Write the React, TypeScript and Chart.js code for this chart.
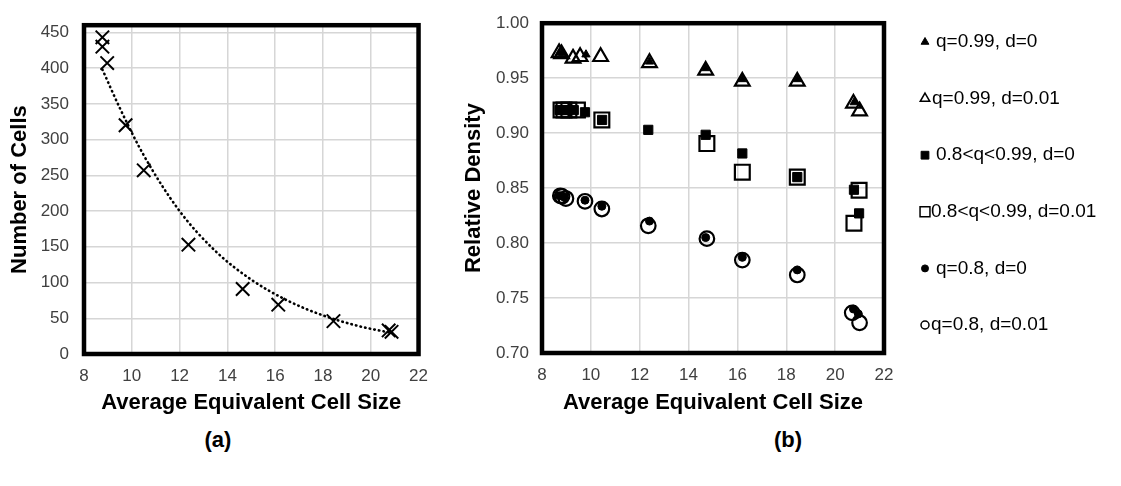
import React, { useEffect, useRef } from 'react';
import { Chart, registerables } from 'chart.js';
import { drawPoint } from 'chart.js/helpers';

Chart.register(...registerables);

// ---------- data: chart (a) ----------
const cellSizeA = [8.77, 8.77, 8.97, 9.74, 10.5, 12.37, 14.64, 16.13, 18.44, 20.75, 20.87];
const cellCount = [443, 430, 407, 320, 257, 153, 91, 69, 46, 33, 31];
const trendSize = [8.77, 9.5, 10.5, 12, 13.5, 15, 16.5, 18, 19.5, 20.87];
const trendCount = [398, 344, 278, 200, 144, 104, 75, 54, 39, 29.5];
const sizeTicks = [8, 10, 12, 14, 16, 18, 20, 22];
const countTicks = [0, 50, 100, 150, 200, 250, 300, 350, 400, 450];

// ---------- data: chart (b) ----------
const seriesNames = [
  'q=0.99, d=0',
  'q=0.99, d=0.01',
  '0.8<q<0.99, d=0',
  '0.8<q<0.99, d=0.01',
  'q=0.8, d=0',
  'q=0.8, d=0.01',
];
const q99d0X = [8.72, 8.85, 9.8, 12.4, 14.7, 16.2, 18.45, 20.78];
const q99d0Y = [0.973, 0.973, 0.9715, 0.965, 0.959, 0.949, 0.949, 0.928];
const q99d1X = [8.7, 8.8, 9.27, 9.56, 10.4, 12.4, 14.7, 16.2, 18.45, 20.75, 21.0];
const q99d1Y = [0.973, 0.972, 0.968, 0.9695, 0.9695, 0.964, 0.957, 0.947, 0.947, 0.927, 0.92];
const qMidD0X = [8.72, 8.85, 9.0, 9.3, 9.76, 10.46, 12.35, 14.7, 16.2, 18.45, 20.77, 20.98];
const qMidD0Y = [0.921, 0.921, 0.921, 0.921, 0.919, 0.912, 0.903, 0.8985, 0.8815, 0.86, 0.8485, 0.827];
const qMidD1X = [8.78, 8.9, 9.1, 9.45, 10.45, 14.75, 16.2, 18.45, 20.77, 20.98];
const qMidD1Y = [0.921, 0.921, 0.921, 0.921, 0.912, 0.8905, 0.8645, 0.86, 0.818, 0.848];
const q80d0X = [8.72, 8.8, 8.9, 9.76, 10.45, 12.4, 14.7, 16.2, 18.45, 20.75, 20.95];
const q80d0Y = [0.843, 0.843, 0.842, 0.839, 0.8335, 0.82, 0.805, 0.787, 0.7756, 0.74, 0.7355];
const q80d1X = [8.75, 8.82, 8.98, 9.76, 10.45, 12.35, 14.75, 16.2, 18.45, 20.7, 21.0];
const q80d1Y = [0.843, 0.8425, 0.8405, 0.838, 0.831, 0.8157, 0.804, 0.7845, 0.771, 0.7365, 0.7275];
const densityTicks = [0.7, 0.75, 0.8, 0.85, 0.9, 0.95, 1.0];

const FONT = "'Liberation Sans', Arial, sans-serif";
const GRID = '#d6d6d6';
const TICK_COLOR = '#404040';
const TICK_SIZE = 17;
const TITLE_SIZE = 22;

const pts = (xs: number[], ys: number[]) => xs.map((x, i) => ({ x, y: ys[i] }));

const framePlugin = {
  id: 'frame',
  beforeDatasetsDraw(chart: any) {
    const { ctx, chartArea } = chart;
    ctx.save();
    ctx.strokeStyle = '#000';
    ctx.lineWidth = 4.5;
    ctx.strokeRect(chartArea.left, chartArea.top, chartArea.right - chartArea.left, chartArea.bottom - chartArea.top);
    ctx.restore();
  },
};

const legendMarkers = [
  { style: 'triangle', r: 4.5, fill: true, textDx: 11 },
  { style: 'triangle', r: 5.5, fill: false, textDx: 7 },
  { style: 'rect', r: 5.5, fill: true, textDx: 11 },
  { style: 'rect', r: 7, fill: false, textDx: 6 },
  { style: 'circle', r: 3.5, fill: true, textDx: 11 },
  { style: 'circle', r: 4, fill: false, textDx: 6 },
];

const legendPlugin = {
  id: 'sideLegend',
  afterDraw(chart: any) {
    const { ctx, chartArea } = chart;
    const x0 = chartArea.right + 41;
    const y0 = 42;
    const step = 56.6;
    ctx.save();
    seriesNames.forEach((name, i) => {
      const m = legendMarkers[i];
      const y = y0 + i * step;
      ctx.fillStyle = m.fill ? '#000' : 'rgba(0,0,0,0)';
      ctx.strokeStyle = '#000';
      ctx.lineWidth = m.fill ? 1 : 1.5;
      drawPoint(ctx, { pointStyle: m.style, radius: m.r, rotation: 0, borderWidth: ctx.lineWidth } as any, x0, y);
      ctx.fillStyle = '#000';
      ctx.font = `19px ${FONT}`;
      ctx.textBaseline = 'middle';
      ctx.textAlign = 'left';
      ctx.fillText(name, x0 + m.textDx, y);
    });
    ctx.restore();
  },
};

function axisX(extra: any) {
  return {
    type: 'linear',
    min: 8,
    max: 22,
    afterBuildTicks: (s: any) => {
      s.ticks = sizeTicks.map((v) => ({ value: v }));
    },
    grid: { color: GRID, lineWidth: 1.5, drawTicks: false },
    border: { display: false },
    ticks: { padding: 12, color: TICK_COLOR, font: { family: FONT, size: TICK_SIZE } },
    title: {
      display: true,
      text: 'Average Equivalent Cell Size',
      color: '#000',
      font: { family: FONT, size: TITLE_SIZE, weight: 'bold' },
      padding: 0,
    },
    ...extra,
  };
}

function ChartA() {
  const ref = useRef<HTMLCanvasElement>(null);
  useEffect(() => {
    const chart = new Chart(ref.current as HTMLCanvasElement, {
      type: 'scatter',
      data: {
        datasets: [
          {
            label: 'Number of Cells',
            data: pts(cellSizeA, cellCount),
            pointStyle: 'crossRot',
            pointRadius: 9.5,
            pointBorderColor: '#000',
            pointBackgroundColor: '#000',
            pointBorderWidth: 2,
            showLine: false,
          },
          {
            label: 'trend',
            data: pts(trendSize, trendCount),
            showLine: true,
            pointRadius: 0,
            borderColor: '#000',
            borderWidth: 2.6,
            borderDash: [0.5, 4.2],
            borderCapStyle: 'round',
            cubicInterpolationMode: 'monotone',
            fill: false,
          },
        ],
      } as any,
      options: {
        animation: false,
        responsive: false,
        events: [],
        layout: { padding: { top: 12, right: 10, left: 0, bottom: 0 } },
        plugins: { legend: { display: false }, tooltip: { enabled: false } },
        scales: {
          x: axisX({ afterFit: (s: any) => { s.height = 62; } }),
          y: {
            type: 'linear',
            min: 0,
            max: 460,
            afterBuildTicks: (s: any) => {
              s.ticks = countTicks.map((v) => ({ value: v }));
            },
            afterFit: (s: any) => { s.width = 84; },
            grid: { color: GRID, lineWidth: 1.5, drawTicks: false },
            border: { display: false },
            ticks: { padding: 15, color: TICK_COLOR, font: { family: FONT, size: TICK_SIZE } },
            title: {
              display: true,
              text: 'Number of Cells',
              color: '#000',
              font: { family: FONT, size: TITLE_SIZE, weight: 'bold' },
              padding: { top: 7, bottom: 0 },
            },
          },
        },
      } as any,
      plugins: [framePlugin],
    });
    return () => chart.destroy();
  }, []);
  return (
    <canvas
      ref={ref}
      width={440}
      height={416}
      style={{ position: 'absolute', left: 0, top: 0, width: 440, height: 416 }}
    />
  );
}

function ChartB() {
  const ref = useRef<HTMLCanvasElement>(null);
  useEffect(() => {
    const filled = (style: string, r: number) => ({
      pointStyle: style,
      pointRadius: r,
      pointBorderColor: '#000',
      pointBackgroundColor: '#000',
      pointBorderWidth: 1,
      showLine: false,
    });
    const open = (style: string, r: number) => ({
      pointStyle: style,
      pointRadius: r,
      pointBorderColor: '#000',
      pointBackgroundColor: 'rgba(255,255,255,0)',
      pointBorderWidth: 2.2,
      showLine: false,
    });
    const chart = new Chart(ref.current as HTMLCanvasElement, {
      type: 'scatter',
      data: {
        datasets: [
          { label: seriesNames[0], data: pts(q99d0X, q99d0Y), ...filled('triangle', 4.8) },
          { label: seriesNames[1], data: pts(q99d1X, q99d1Y), ...open('triangle', 8.5) },
          { label: seriesNames[2], data: pts(qMidD0X, qMidD0Y), ...filled('rect', 6.5) },
          { label: seriesNames[3], data: pts(qMidD1X, qMidD1Y), ...open('rect', 10.5) },
          { label: seriesNames[4], data: pts(q80d0X, q80d0Y), ...filled('circle', 4) },
          { label: seriesNames[5], data: pts(q80d1X, q80d1Y), ...open('circle', 7.3) },
        ],
      } as any,
      options: {
        animation: false,
        responsive: false,
        events: [],
        layout: { padding: { top: 15.5, right: 237, left: 0, bottom: 0 } },
        plugins: { legend: { display: false }, tooltip: { enabled: false } },
        scales: {
          x: axisX({ afterFit: (s: any) => { s.height = 63; } }),
          y: {
            type: 'linear',
            min: 0.7,
            max: 1.0,
            afterBuildTicks: (s: any) => {
              s.ticks = densityTicks.map((v) => ({ value: v }));
            },
            afterFit: (s: any) => { s.width = 102; },
            grid: { color: GRID, lineWidth: 1.5, drawTicks: false },
            border: { display: false },
            ticks: {
              padding: 13,
              color: TICK_COLOR,
              font: { family: FONT, size: TICK_SIZE },
              callback: (v: any) => Number(v).toFixed(2),
            },
            title: {
              display: true,
              text: 'Relative Density',
              color: '#000',
              font: { family: FONT, size: TITLE_SIZE, weight: 'bold' },
              padding: { top: 21, bottom: 0 },
            },
          },
        },
      } as any,
      plugins: [framePlugin, legendPlugin],
    });
    return () => chart.destroy();
  }, []);
  return (
    <canvas
      ref={ref}
      width={681}
      height={416}
      style={{ position: 'absolute', left: 440, top: 0, width: 681, height: 416 }}
    />
  );
}

const captionStyle: React.CSSProperties = {
  position: 'absolute',
  top: 428,
  width: 80,
  textAlign: 'center',
  fontFamily: FONT,
  fontWeight: 'bold',
  fontSize: 22,
  color: '#000',
  lineHeight: '24px',
};

export default function App() {
  return (
    <div style={{ position: 'absolute', left: 0, top: 0, width: 1121, height: 486, background: '#fff', overflow: 'hidden' }}>
      <ChartA />
      <ChartB />
      <div style={{ ...captionStyle, left: 218 - 40 }}>(a)</div>
      <div style={{ ...captionStyle, left: 788 - 40 }}>(b)</div>
    </div>
  );
}
